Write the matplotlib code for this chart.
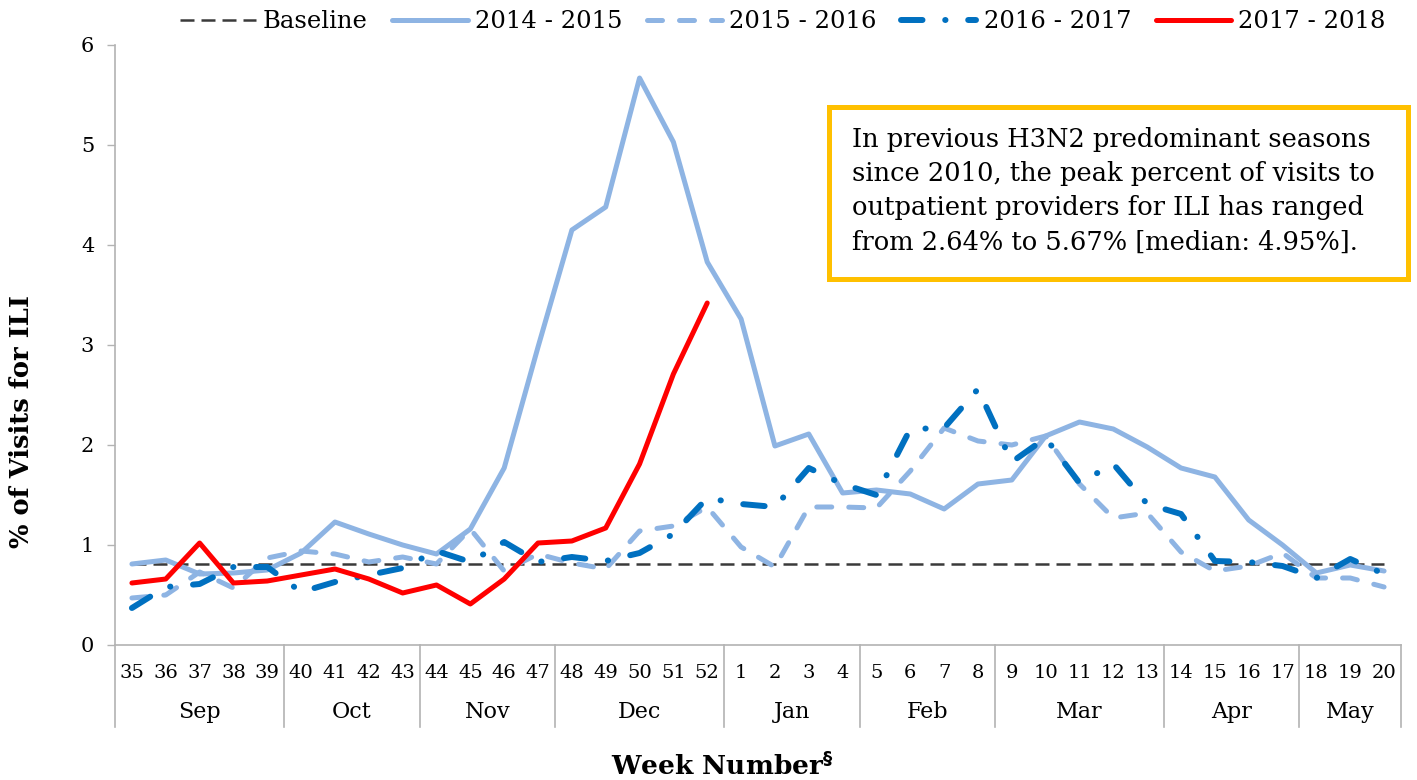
import matplotlib
matplotlib.use("Agg")
import matplotlib.pyplot as plt
from matplotlib.patches import Rectangle
import matplotlib.transforms as mtransforms

# ---------------- data ----------------
weeks = [35, 36, 37, 38, 39, 40, 41, 42, 43, 44, 45, 46, 47, 48, 49, 50, 51, 52,
         1, 2, 3, 4, 5, 6, 7, 8, 9, 10, 11, 12, 13, 14, 15, 16, 17, 18, 19, 20]
months = ["Sep", "Oct", "Nov", "Dec", "Jan", "Feb", "Mar", "Apr", "May"]
month_counts = [5, 4, 4, 5, 4, 4, 5, 4, 3]

baseline_value = 0.81
s2014_2015 = [0.81, 0.85, 0.71, 0.72, 0.75, 0.92, 1.23, 1.11, 1.00, 0.91, 1.16, 1.77,
              2.98, 4.15, 4.38, 5.67, 5.03, 3.83, 3.26, 1.99, 2.11, 1.52, 1.55, 1.51,
              1.36, 1.61, 1.65, 2.09, 2.23, 2.16, 1.98, 1.77, 1.68, 1.25, 1.00, 0.72,
              0.80, 0.74]
s2015_2016 = [0.47, 0.50, 0.73, 0.57, 0.87, 0.94, 0.91, 0.83, 0.88, 0.81, 1.16, 0.74,
              0.91, 0.82, 0.76, 1.14, 1.19, 1.38, 0.98, 0.78, 1.38, 1.38, 1.37, 1.74,
              2.17, 2.04, 2.00, 2.09, 1.61, 1.27, 1.32, 0.93, 0.74, 0.79, 0.92, 0.67,
              0.67, 0.58]
s2016_2017 = [0.37, 0.58, 0.61, 0.78, 0.78, 0.53, 0.63, 0.70, 0.77, 0.94, 0.83, 1.03,
              0.83, 0.88, 0.84, 0.92, 1.11, 1.47, 1.41, 1.38, 1.77, 1.61, 1.50, 2.16,
              2.17, 2.56, 1.83, 2.07, 1.62, 1.81, 1.41, 1.31, 0.84, 0.83, 0.79, 0.67,
              0.86, 0.71]
s2017_2018 = [0.62, 0.66, 1.02, 0.62, 0.64, 0.70, 0.76, 0.66, 0.52, 0.60, 0.41, 0.66,
              1.02, 1.04, 1.17, 1.81, 2.71, 3.42]

series_labels = ["Baseline", "2014 - 2015", "2015 - 2016", "2016 - 2017", "2017 - 2018"]
yticks = [0, 1, 2, 3, 4, 5, 6]
box_lines = ["In previous H3N2 predominant seasons",
             "since 2010, the peak percent of visits to",
             "outpatient providers for ILI has ranged",
             "from 2.64% to 5.67% [median: 4.95%]."]

# ---------------- style ----------------
FONT = "DejaVu Serif"
plt.rcParams["font.family"] = [FONT, "DejaVu Sans"]
LIGHT = "#8EB4E3"
DARK = "#0070C0"
RED = "#FF0000"
BASE = "#3A3A3A"
GRID = "#B3B3B3"

W, H = 1417, 780
fig = plt.figure(figsize=(W / 100, H / 100), dpi=100)
ax_left, ax_right, ax_top, ax_bot = 115, 1401, 45, 645
ax = fig.add_axes([ax_left / W, 1 - ax_bot / H, (ax_right - ax_left) / W, (ax_bot - ax_top) / H])

n = len(weeks)
x = list(range(n))

lw_light = 3.6
lw_dark = 4.3
base_line, = ax.plot(x, [baseline_value] * n, color=BASE, lw=1.8,
                     linestyle=(0, (5.6, 2.8)), label=series_labels[0], zorder=2)
l1, = ax.plot(x, s2014_2015, color=LIGHT, lw=lw_light, solid_capstyle="round",
              solid_joinstyle="round", label=series_labels[1], zorder=3)
l2, = ax.plot(x, s2015_2016, color=LIGHT, lw=lw_light, linestyle=(0, (3.0, 3.4)),
              dash_capstyle="round", dash_joinstyle="round", label=series_labels[2], zorder=4)
l3, = ax.plot(x, s2016_2017, color=DARK, lw=lw_dark, linestyle=(0, (3.6, 3.8, 0.05, 3.8)),
              dash_capstyle="round", dash_joinstyle="round", label=series_labels[3], zorder=5)
l4, = ax.plot(x[:len(s2017_2018)], s2017_2018, color=RED, lw=lw_light,
              solid_capstyle="round", solid_joinstyle="round", label=series_labels[4], zorder=6)

ax.set_xlim(-0.5, n - 0.5)
ax.set_ylim(0, 6)
ax.set_yticks(yticks)
ax.set_yticklabels([str(v) for v in yticks], fontsize=15)
ax.tick_params(axis="y", length=6, width=1, color=GRID, pad=9, direction="out")
ax.set_xticks([])
for s in ["top", "right"]:
    ax.spines[s].set_visible(False)
for s in ["left", "bottom"]:
    ax.spines[s].set_color(GRID)
    ax.spines[s].set_linewidth(1.2)

# category labels (weeks + months)
trans = mtransforms.blended_transform_factory(ax.transData, ax.transAxes)
for xi, w in zip(x, weeks):
    ax.text(xi, -0.047, str(w), transform=trans, ha="center", va="center", fontsize=14)

bounds = [-0.5]
for c in month_counts:
    bounds.append(bounds[-1] + c)
for b in bounds:
    ax.plot([b, b], [0, -0.137], transform=trans, color=GRID, lw=1.2, clip_on=False)
for i, m in enumerate(months):
    ax.text((bounds[i] + bounds[i + 1]) / 2, -0.112, m, transform=trans,
            ha="center", va="center", fontsize=16)

fig.text(722 / W, 1 - 766 / H, "Week Number$^{\\mathbf{\u00a7}}$", ha="center", va="center",
         fontsize=19, fontweight="bold")
fig.text(22 / W, 1 - 422 / H, "% of Visits for ILI", ha="center", va="center",
         rotation=90, fontsize=18.5, fontweight="bold")

# legend
fig.legend(handles=[base_line, l1, l2, l3, l4], labels=series_labels, ncol=5,
           loc="center", bbox_to_anchor=(783 / W, 1 - 22 / H), frameon=False,
           fontsize=17.5, handlelength=3.1, handletextpad=0.3, columnspacing=1.0)

# annotation box
bx0, bx1, by0, by1 = 829, 1408, 107, 279
fig.patches.append(Rectangle((bx0 / W, 1 - by1 / H), (bx1 - bx0) / W, (by1 - by0) / H,
                             transform=fig.transFigure, facecolor="white",
                             edgecolor="#FFC000", lw=3.6, zorder=10))
for i, line in enumerate(box_lines):
    fig.text(852 / W, 1 - (139 + 34.5 * i) / H, line, ha="left", va="center",
             fontsize=18.5, zorder=11)

fig.savefig("out.png", dpi=100, facecolor="white")
